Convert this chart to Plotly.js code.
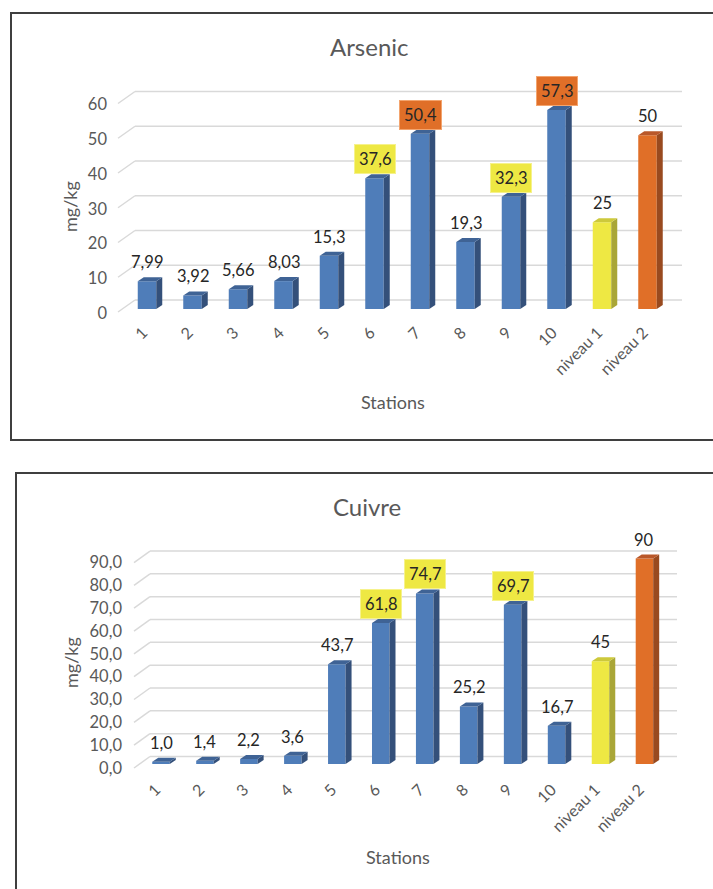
<!DOCTYPE html>
<html>
<head>
<meta charset="utf-8">
<script src="https://cdn.plot.ly/plotly-3.0.1.min.js"></script>
<style>
  html, body { margin: 0; padding: 0; background: #ffffff; }
  #chart { width: 713px; height: 889px; }
</style>
</head>
<body>
<div id="chart"></div>
<script>
// ---- data ----
const stations = ['1', '2', '3', '4', '5', '6', '7', '8', '9', '10', 'niveau 1', 'niveau 2'];
const arsenicValues = [7.99, 3.92, 5.66, 8.03, 15.3, 37.6, 50.4, 19.3, 32.3, 57.3, 25, 50];
const cuivreValues = [1.0, 1.4, 2.2, 3.6, 43.7, 61.8, 74.7, 25.2, 69.7, 16.7, 45, 90];
const arsenicTicks = [0, 10, 20, 30, 40, 50, 60];
const cuivreTicks = [0, 10, 20, 30, 40, 50, 60, 70, 80, 90];
const arsenicTickText = arsenicTicks.map(v => String(v));
const cuivreTickText = cuivreTicks.map(v => v.toFixed(1).replace('.', ','));

// ---- page geometry (pixels) ----
const W = 713, H = 889;
const fx = p => p / W;          // pixel -> paper x
const fy = p => 1 - p / H;      // pixel -> paper y

const FONT = 'Lato, "Open Sans", sans-serif';
const GREY = '#595959';
const INK = '#262626';
const GRID = '#d9d9d9';
const FRAME = '#3f3f3f';

const PALETTE = {
  blue:   { front: '#4f7db9', side: '#34507a', top: '#3f6395' },
  yellow: { front: '#eee843', side: '#a9a637', top: '#cdc93b' },
  orange: { front: '#e06f28', side: '#994a1f', top: '#b9582a' }
};

const DEPTH_X = 6, DEPTH_Y = 4;   // 3-D extrusion of each column, in px

const charts = [
  {
    title: 'Arsenic', values: arsenicValues, ticks: arsenicTicks, tickText: arsenicTickText,
    fmt: (v) => String(v).replace('.', ','),
    frame: { left: 11, top: 13, bottom: 440 },
    base: 309, ppu: 3.475, yMax: 70,
    firstX: 147, step: 45.5, barW: 18.5,
    wallRise: 9, wallX0: 135, wallX1: 682, diagX0: 118, diagDrop: 12,
    labelRight: 104, tickGap: 7, tickShift: -4,
    titlePos: [369, 46], yTitlePos: [70, 207], xTitlePos: [393, 402]
  },
  {
    title: 'Cuivre', values: cuivreValues, ticks: cuivreTicks, tickText: cuivreTickText,
    fmt: (v, i) => (i < 10 ? v.toFixed(1) : String(v)).replace('.', ','),
    frame: { left: 16, top: 473, bottom: 960 },
    base: 764, ppu: 2.283, yMax: 100,
    firstX: 161, step: 43.95, barW: 17.5,
    wallRise: 7.5, wallX0: 150, wallX1: 677, diagX0: 134, diagDrop: 11.5,
    labelRight: 119, tickGap: 9, tickShift: -5,
    titlePos: [367, 506], yTitlePos: [71, 663], xTitlePos: [398, 857]
  }
];

const traces = [];
const shapes = [];
const annotations = [];
const layout = {
  width: W, height: H,
  margin: { l: 0, r: 0, t: 0, b: 0 },
  paper_bgcolor: '#ffffff', plot_bgcolor: 'rgba(0,0,0,0)',
  showlegend: false,
  font: { family: FONT, color: GREY },
  shapes: shapes, annotations: annotations
};

charts.forEach((c, k) => {
  const xa = k === 0 ? 'x' : 'x2';
  const ya = k === 0 ? 'y' : 'y2';
  const xKey = k === 0 ? 'xaxis' : 'xaxis2';
  const yKey = k === 0 ? 'yaxis' : 'yaxis2';

  const n = c.values.length;
  const lvl1 = c.values[n - 2], lvl2 = c.values[n - 1];
  const w = c.barW / c.step;          // column width in category units
  const dx = DEPTH_X / c.step;        // depth offset, x units
  const dy = DEPTH_Y / c.ppu;         // depth offset, value units

  // axes
  layout[xKey] = {
    domain: [fx(c.firstX - c.step / 2), fx(c.firstX + (n - 0.5) * c.step)],
    range: [-0.5, n - 0.5], anchor: ya,
    tickmode: 'array', tickvals: c.values.map((_, i) => i), ticktext: stations,
    tickangle: -45, ticks: 'outside', ticklen: c.tickGap, tickcolor: 'rgba(0,0,0,0)',
    ticklabelshift: c.tickShift,
    tickfont: { family: FONT, size: 16, color: GREY },
    showgrid: false, zeroline: false, showline: false, fixedrange: true
  };
  layout[yKey] = {
    domain: [fy(c.base), fy(c.base - c.yMax * c.ppu)],
    range: [0, c.yMax], anchor: 'free', position: fx(c.labelRight + 3),
    tickmode: 'array', tickvals: c.ticks, ticktext: c.tickText,
    ticks: '', ticklabelshift: 4,
    tickfont: { family: FONT, size: 16.5, color: GREY },
    showgrid: false, zeroline: false, showline: false, fixedrange: true
  };

  // chart frame
  shapes.push({
    type: 'rect', xref: 'paper', yref: 'paper', layer: 'below',
    x0: fx(c.frame.left), x1: 1.05, y0: fy(c.frame.top), y1: fy(c.frame.bottom),
    line: { color: FRAME, width: 2 }, fillcolor: 'rgba(0,0,0,0)'
  });

  // back wall gridlines and their floor diagonals
  c.ticks.forEach(t => {
    const wallY = c.base - c.wallRise - t * c.ppu;
    shapes.push({
      type: 'line', xref: 'paper', yref: 'paper', layer: 'below',
      x0: fx(c.wallX0), x1: fx(c.wallX1), y0: fy(wallY), y1: fy(wallY),
      line: { color: GRID, width: 1.5 }
    });
    shapes.push({
      type: 'line', xref: 'paper', yref: 'paper', layer: 'below',
      x0: fx(c.diagX0), x1: fx(c.wallX0), y0: fy(wallY + c.diagDrop), y1: fy(wallY),
      line: { color: GRID, width: 1.5 }
    });
  });

  // colour of each column
  const tone = c.values.map((_, i) => i === n - 2 ? 'yellow' : i === n - 1 ? 'orange' : 'blue');

  // front faces
  traces.push({
    type: 'bar', xaxis: xa, yaxis: ya,
    x: c.values.map((_, i) => i), y: c.values, width: w,
    marker: { color: tone.map(t => PALETTE[t].front), line: { width: 0 } },
    hoverinfo: 'skip'
  });

  // side and top faces of each column
  c.values.forEach((v, i) => {
    const L = i - w / 2, R = i + w / 2;
    traces.push({
      type: 'scatter', mode: 'lines', xaxis: xa, yaxis: ya, hoverinfo: 'skip',
      x: [R, R + dx, R + dx, R, R], y: [0, dy, v + dy, v, 0],
      fill: 'toself', fillcolor: PALETTE[tone[i]].side, line: { width: 0 }
    });
    traces.push({
      type: 'scatter', mode: 'lines', xaxis: xa, yaxis: ya, hoverinfo: 'skip',
      x: [L, L + dx, R + dx, R, L], y: [v, v + dy, v + dy, v, v],
      fill: 'toself', fillcolor: PALETTE[tone[i]].top, line: { width: 0 }
    });
  });

  // value labels; stations above a guide level get a coloured tag
  c.values.forEach((v, i) => {
    let bg = null, border = null;
    if (i < n - 2) {
      if (v > lvl2) { bg = PALETTE.orange.front; border = '#f3a46e'; }
      else if (v > lvl1) { bg = PALETTE.yellow.front; border = '#f6f28c'; }
    }
    const a = {
      xref: xa, yref: ya, x: i, y: v, yshift: 19,
      text: c.fmt(v, i), showarrow: false,
      font: { family: FONT, size: 16.5, color: INK }
    };
    if (bg) { a.bgcolor = bg; a.bordercolor = border; a.borderwidth = 1; a.borderpad = 4; }
    annotations.push(a);
  });

  // titles
  annotations.push({
    xref: 'paper', yref: 'paper', x: fx(c.titlePos[0]), y: fy(c.titlePos[1]),
    text: c.title, showarrow: false, xanchor: 'center', yanchor: 'middle',
    font: { family: FONT, size: 24, color: GREY }
  });
  annotations.push({
    xref: 'paper', yref: 'paper', x: fx(c.yTitlePos[0]), y: fy(c.yTitlePos[1]),
    text: 'mg/kg', textangle: -90, showarrow: false, xanchor: 'center', yanchor: 'middle',
    font: { family: FONT, size: 18, color: GREY }
  });
  annotations.push({
    xref: 'paper', yref: 'paper', x: fx(c.xTitlePos[0]), y: fy(c.xTitlePos[1]),
    text: 'Stations', showarrow: false, xanchor: 'center', yanchor: 'middle',
    font: { family: FONT, size: 18, color: GREY }
  });
});

Plotly.newPlot('chart', traces, layout, { staticPlot: true, displayModeBar: false });
</script>
</body>
</html>
